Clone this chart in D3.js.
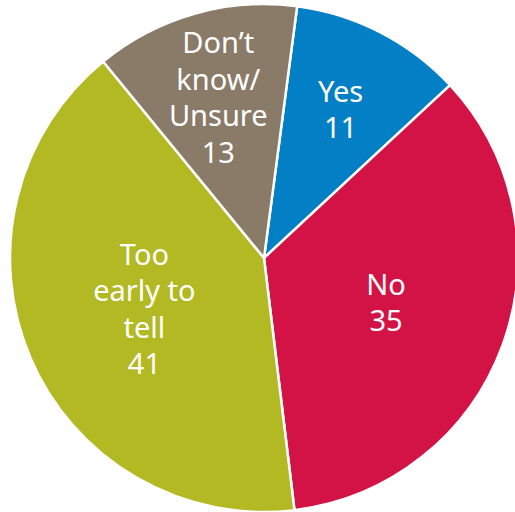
<!DOCTYPE html>
<html>
<head>
<meta charset="utf-8">
<script src="https://cdn.jsdelivr.net/npm/d3@7"></script>
<style>
  body { margin: 0; background: #fff; }
  text { font-family: "Noto Sans", "Open Sans", sans-serif; }
</style>
</head>
<body>
<div id="chart"></div>
<script>
// answers and shares (percent)
var categories = ["Yes", "No", "Too early to tell", "Don’t know/Unsure"];
var labelLines = [["Yes"], ["No"], ["Too", "early to", "tell"], ["Don’t", "know/", "Unsure"]];
var values = [11, 35, 41, 13];
var colors = ["#0380c5", "#d31346", "#b2b922", "#8a7a68"];

var width = 515, height = 512;
var cx = 264, cy = 258, radius = 254;
var fontSize = 29, lineHeight = 36.5;

var svg = d3.select("#chart")
    .append("svg")
    .attr("width", width)
    .attr("height", height);

var g = svg.append("g")
    .attr("transform", "translate(" + cx + "," + cy + ")");

var pie = d3.pie()
    .sort(null)
    .startAngle(0.131)
    .endAngle(0.131 + 2 * Math.PI);

var arcs = pie(values);

var arc = d3.arc()
    .innerRadius(0)
    .outerRadius(radius);

g.selectAll("path")
    .data(arcs)
    .enter()
    .append("path")
    .attr("d", arc)
    .attr("fill", function(d, i) { return colors[i]; })
    .attr("stroke", "#fff")
    .attr("stroke-width", 2.5)
    .attr("stroke-linejoin", "round");

// small slices get their label pushed further out
function labelRadius(d) {
    return d.value < 20 ? 167 : 130;
}

g.selectAll(".label")
    .data(arcs)
    .enter()
    .append("text")
    .attr("class", "label")
    .attr("fill", "#fff")
    .attr("font-size", fontSize)
    .attr("text-anchor", "middle")
    .each(function(d, i) {
        var r = labelRadius(d);
        var pos = d3.arc().innerRadius(r).outerRadius(r).centroid(d);
        var lines = labelLines[i].concat([String(values[i])]);
        var y0 = pos[1] - (lines.length - 1) * lineHeight / 2 + 0.36 * fontSize;
        var t = d3.select(this);
        lines.forEach(function(line, k) {
            t.append("tspan")
                .attr("x", pos[0])
                .attr("y", y0 + k * lineHeight)
                .text(line);
        });
    });
</script>
</body>
</html>
